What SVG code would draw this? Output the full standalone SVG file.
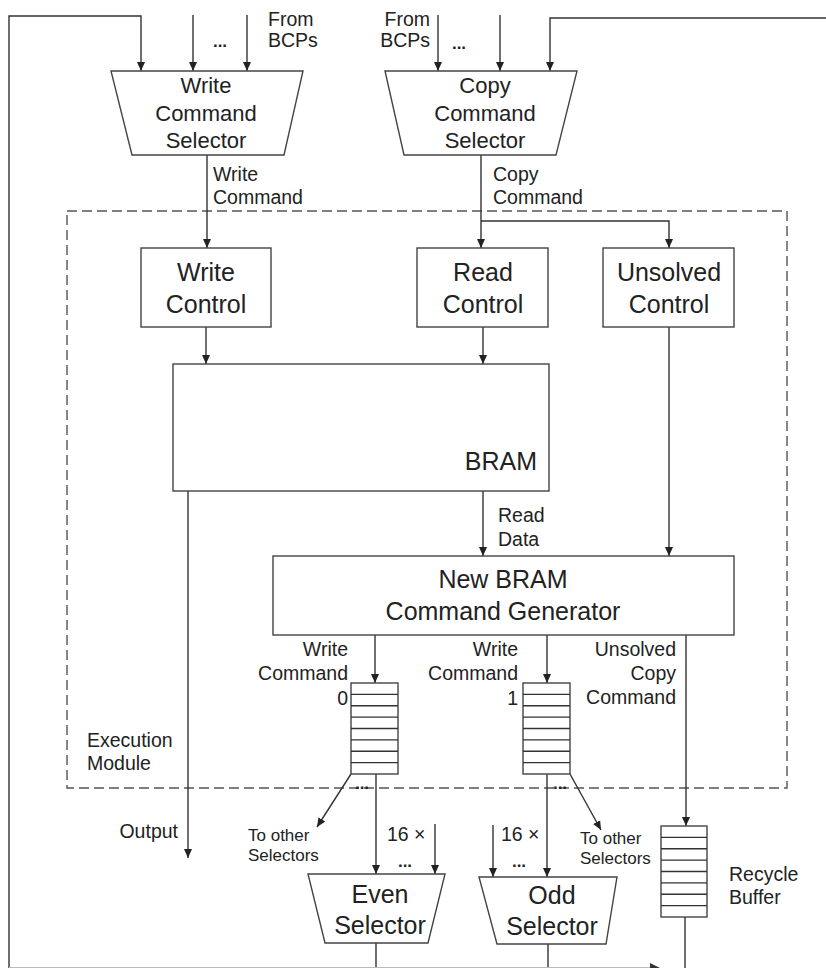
<svg xmlns="http://www.w3.org/2000/svg" width="826" height="968" viewBox="0 0 826 968">
<style>
  .ln { fill: none; stroke: #333; stroke-width: 1.4; }
  .box { fill: #fff; stroke: #444; stroke-width: 1.4; }
  .dash { fill: none; stroke: #555; stroke-width: 1.4; stroke-dasharray: 10 5; }
  .faint { fill: none; stroke: #bbb; stroke-width: 1.2; }
  text { font-family: "Liberation Sans", Arial, sans-serif; fill: #222; }
  .big { font-size: 25px; text-anchor: middle; }
  .sel { font-size: 22px; text-anchor: middle; }
  .lbl { font-size: 19.5px; }
  .r { text-anchor: end; }
  .sm { font-size: 17px; }
  .dots { font-size: 17px; font-weight: bold; text-anchor: middle; }
</style>
<defs>
  <marker id="ah" markerUnits="userSpaceOnUse" markerWidth="10" markerHeight="8" refX="9" refY="4" orient="auto">
    <path d="M0,0 L9,4 L0,8 z" fill="#222"/>
  </marker>
</defs>

<g id="execution-module">
  <rect class="dash" x="67" y="211" width="720" height="577"/>
  <text class="lbl" x="87" y="747">Execution</text>
  <text class="lbl" x="87" y="770">Module</text>
</g>

<g id="connectors">
  <!-- feedback loop left -->
  <polyline class="ln" points="9,968 9,16 141,16 141,71" marker-end="url(#ah)"/>
  <line class="ln" x1="193" y1="15" x2="193" y2="71" marker-end="url(#ah)"/>
  <line class="ln" x1="247" y1="15" x2="247" y2="71" marker-end="url(#ah)"/>
  <!-- copy selector inputs -->
  <line class="ln" x1="438" y1="15" x2="438" y2="71" marker-end="url(#ah)"/>
  <line class="ln" x1="500" y1="15" x2="500" y2="71" marker-end="url(#ah)"/>
  <polyline class="ln" points="826,18 550,18 550,71" marker-end="url(#ah)"/>
  <!-- selector outputs -->
  <line class="ln" x1="207" y1="155" x2="207" y2="248" marker-end="url(#ah)"/>
  <line class="ln" x1="481" y1="155" x2="481" y2="248" marker-end="url(#ah)"/>
  <polyline class="ln" points="481,221 669,221 669,248" marker-end="url(#ah)"/>
  <!-- controls to BRAM -->
  <line class="ln" x1="206" y1="327" x2="206" y2="364" marker-end="url(#ah)"/>
  <line class="ln" x1="483" y1="327" x2="483" y2="364" marker-end="url(#ah)"/>
  <line class="ln" x1="669" y1="327" x2="669" y2="556" marker-end="url(#ah)"/>
  <!-- BRAM outputs -->
  <line class="ln" x1="188" y1="491" x2="188" y2="858" marker-end="url(#ah)"/>
  <line class="ln" x1="483" y1="491" x2="483" y2="556" marker-end="url(#ah)"/>
  <!-- generator outputs -->
  <line class="ln" x1="375" y1="635" x2="375" y2="683" marker-end="url(#ah)"/>
  <line class="ln" x1="547" y1="635" x2="547" y2="683" marker-end="url(#ah)"/>
  <line class="ln" x1="686" y1="635" x2="686" y2="826" marker-end="url(#ah)"/>
  <!-- FIFO outputs -->
  <line class="ln" x1="376" y1="774" x2="376" y2="874" marker-end="url(#ah)"/>
  <line class="ln" x1="351" y1="774" x2="317" y2="827" marker-end="url(#ah)"/>
  <line class="ln" x1="547" y1="774" x2="547" y2="877" marker-end="url(#ah)"/>
  <line class="ln" x1="570" y1="774" x2="601" y2="830" marker-end="url(#ah)"/>
  <line class="ln" x1="435" y1="824" x2="435" y2="874" marker-end="url(#ah)"/>
  <line class="ln" x1="493" y1="825" x2="493" y2="877" marker-end="url(#ah)"/>
  <!-- selector / buffer outputs to bottom -->
  <line class="ln" x1="376" y1="943" x2="376" y2="968"/>
  <line class="ln" x1="548" y1="944" x2="548" y2="968"/>
  <line class="ln" x1="685" y1="917" x2="685" y2="968"/>
  <line class="faint" x1="9" y1="967.5" x2="652" y2="967.5"/>
  <path d="M650,963 L660,968 L650,973 z" fill="#333"/>
  <!-- connector labels -->
  <text class="lbl" x="268" y="26">From</text>
  <text class="lbl" x="268" y="47">BCPs</text>
  <text class="dots" x="220" y="47">...</text>
  <text class="lbl r" x="430" y="26">From</text>
  <text class="lbl r" x="430" y="47">BCPs</text>
  <text class="dots" x="459" y="49">...</text>
  <text class="lbl" x="213" y="181">Write</text>
  <text class="lbl" x="213" y="204">Command</text>
  <text class="lbl" x="493" y="181">Copy</text>
  <text class="lbl" x="493" y="204">Command</text>
  <text class="lbl" x="498" y="522">Read</text>
  <text class="lbl" x="498" y="546">Data</text>
  <text class="lbl r" x="178" y="838">Output</text>
  <text class="lbl r" x="348" y="656">Write</text>
  <text class="lbl r" x="348" y="680">Command</text>
  <text class="lbl r" x="348" y="705">0</text>
  <text class="lbl r" x="518" y="656">Write</text>
  <text class="lbl r" x="518" y="680">Command</text>
  <text class="lbl r" x="518" y="705">1</text>
  <text class="lbl r" x="676" y="656">Unsolved</text>
  <text class="lbl r" x="676" y="680">Copy</text>
  <text class="lbl r" x="676" y="704">Command</text>
  <text class="dots" x="362" y="789">...</text>
  <text class="dots" x="560" y="789">...</text>
  <text class="sm" x="248" y="841">To other</text>
  <text class="sm" x="248" y="861">Selectors</text>
  <text class="sm" x="580" y="844">To other</text>
  <text class="sm" x="580" y="864">Selectors</text>
  <text class="lbl" x="387" y="841">16 ×</text>
  <text class="dots" x="405" y="867">...</text>
  <text class="lbl" x="501" y="841">16 ×</text>
  <text class="dots" x="519" y="867">...</text>
</g>

<g id="write-command-selector">
  <polygon class="box" points="111,71 303,71 284,155 132,155"/>
  <text class="sel" x="206" y="93">Write</text>
  <text class="sel" x="206" y="121">Command</text>
  <text class="sel" x="206" y="148">Selector</text>
</g>

<g id="copy-command-selector">
  <polygon class="box" points="385,71 577,71 556,155 404,155"/>
  <text class="sel" x="485" y="93">Copy</text>
  <text class="sel" x="485" y="121">Command</text>
  <text class="sel" x="485" y="148">Selector</text>
</g>

<g id="write-control">
  <rect class="box" x="141" y="248" width="130" height="79"/>
  <text class="big" x="206" y="281">Write</text>
  <text class="big" x="206" y="313">Control</text>
</g>

<g id="read-control">
  <rect class="box" x="417" y="248" width="131" height="79"/>
  <text class="big" x="483" y="281">Read</text>
  <text class="big" x="483" y="313">Control</text>
</g>

<g id="unsolved-control">
  <rect class="box" x="603" y="248" width="131" height="79"/>
  <text class="big" x="669" y="281">Unsolved</text>
  <text class="big" x="669" y="313">Control</text>
</g>

<g id="bram">
  <rect class="box" x="173" y="364" width="376" height="127"/>
  <text class="big" x="537" y="470" style="text-anchor:end">BRAM</text>
</g>

<g id="new-bram-command-generator">
  <rect class="box" x="273" y="556" width="461" height="79"/>
  <text class="big" x="503" y="588">New BRAM</text>
  <text class="big" x="503" y="620">Command Generator</text>
</g>

<g id="fifo-0">
  <rect class="box" x="351" y="683" width="47" height="91"/>
  <path class="ln" d="M351,694.4H398M351,705.8H398M351,717.1H398M351,728.5H398M351,739.9H398M351,751.3H398M351,762.6H398"/>
</g>

<g id="fifo-1">
  <rect class="box" x="523" y="683" width="47" height="91"/>
  <path class="ln" d="M523,694.4H570M523,705.8H570M523,717.1H570M523,728.5H570M523,739.9H570M523,751.3H570M523,762.6H570"/>
</g>

<g id="recycle-buffer">
  <rect class="box" x="661" y="826" width="46" height="91"/>
  <path class="ln" d="M661,837.4H707M661,848.8H707M661,860.1H707M661,871.5H707M661,882.9H707M661,894.3H707M661,905.6H707"/>
  <text class="lbl" x="729" y="881">Recycle</text>
  <text class="lbl" x="729" y="904">Buffer</text>
</g>

<g id="even-selector">
  <polygon class="box" points="308,874 445,874 428,943 325,943"/>
  <text class="big" x="380" y="903">Even</text>
  <text class="big" x="380" y="934">Selector</text>
</g>

<g id="odd-selector">
  <polygon class="box" points="479,877 617,877 606,944 497,944"/>
  <text class="big" x="552" y="904">Odd</text>
  <text class="big" x="552" y="935">Selector</text>
</g>
</svg>
